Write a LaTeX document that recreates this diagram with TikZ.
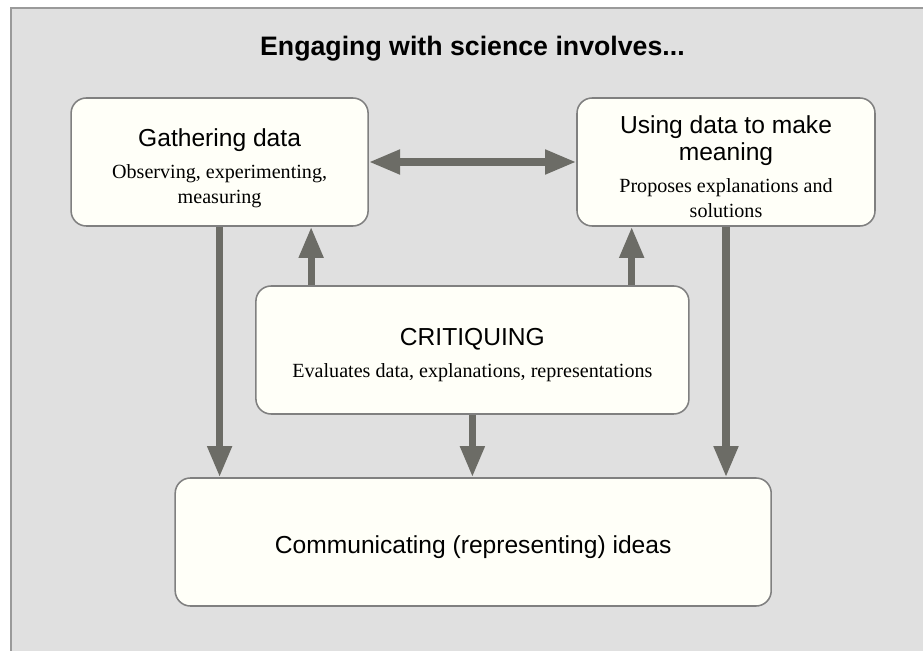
\documentclass[tikz,border=0pt]{standalone}
\usepackage{fontspec}
\setmainfont{Liberation Serif}
\setsansfont{Liberation Sans}
\usetikzlibrary{arrows.meta}

\definecolor{panel}{HTML}{E0E0E0}
\definecolor{panelline}{HTML}{9A9A9A}
\definecolor{boxfill}{HTML}{FFFFF8}
\definecolor{boxline}{HTML}{808080}
\definecolor{arrowgray}{HTML}{6C6C66}

\newcommand\titlefont{\sffamily\bfseries\fontsize{19}{22}\selectfont}
\newcommand\headfont{\sffamily\fontsize{17.5}{19.2}\selectfont}
\newcommand\bodyfont{\rmfamily\fontsize{14.3}{17.8}\selectfont}

\begin{document}
\begin{tikzpicture}[
        box/.style = {draw=boxline, line width=1.1pt, fill=boxfill, rounded corners=0.38cm,
                      minimum height=3.2cm, inner sep=0pt},
        txt/.style = {align=center, inner sep=0pt, anchor=north, font=\bodyfont},
        tip/.tip = {Triangle[length=0.78cm 0, width=0.58cm 0]},
        flow/.style = {draw=arrowgray, line width=0.18cm, -tip},
        both/.style = {draw=arrowgray, line width=0.18cm, tip-tip}
    ]
            \clip (0,0) rectangle (23.075,16.25);
            \draw[panelline, line width=1pt, fill=panel] (0.275,16.05) rectangle (23.6,-0.5);

            \node[font=\titlefont, anchor=base] (title) at (11.81,14.85) {Engaging with science involves...};

            % the four boxes
            \node[box, minimum width=7.425cm] (gather) at (5.49,12.2) {};
            \node[box, minimum width=7.45cm] (using) at (18.15,12.2) {};
            \node[box, minimum width=10.825cm] (critique) at (11.81,7.5) {};
            \node[box, minimum width=14.9cm] (comm) at (11.83,2.7) {};

            \node[txt] (gathertxt) at ([yshift=-0.78cm]gather.north)
                {{\headfont Gathering data}\\[5pt]
                 Observing, experimenting,\\ measuring};
            \node[txt] (usingtxt) at ([yshift=-0.45cm]using.north)
                {{\headfont Using data to make}\\[1.4pt]
                 {\headfont meaning}\\[5pt]
                 Proposes explanations and\\ solutions};
            \node[txt] (critiquetxt) at ([yshift=-1.08cm]critique.north)
                {{\headfont CRITIQUING}\\[5pt]
                 Evaluates data, explanations, representations};
            \node[txt] (commtxt) at ([yshift=-1.46cm]comm.north)
                {\headfont Communicating (representing) ideas};

            % connectors
            \draw[both] (gather.east) -- (using.west);
            \draw[flow] (gather.south) -- (gather.south |- comm.north);
            \draw[flow] (using.south) -- (using.south |- comm.north);
            \draw[flow] (critique.south) -- (critique.south |- comm.north);
            \draw[flow] ([xshift=1.4cm]critique.north west) -- ([xshift=1.4cm]critique.north west |- gather.south);
            \draw[flow] ([xshift=-1.45cm]critique.north east) -- ([xshift=-1.45cm]critique.north east |- using.south);
        \end{tikzpicture}
\end{document}
